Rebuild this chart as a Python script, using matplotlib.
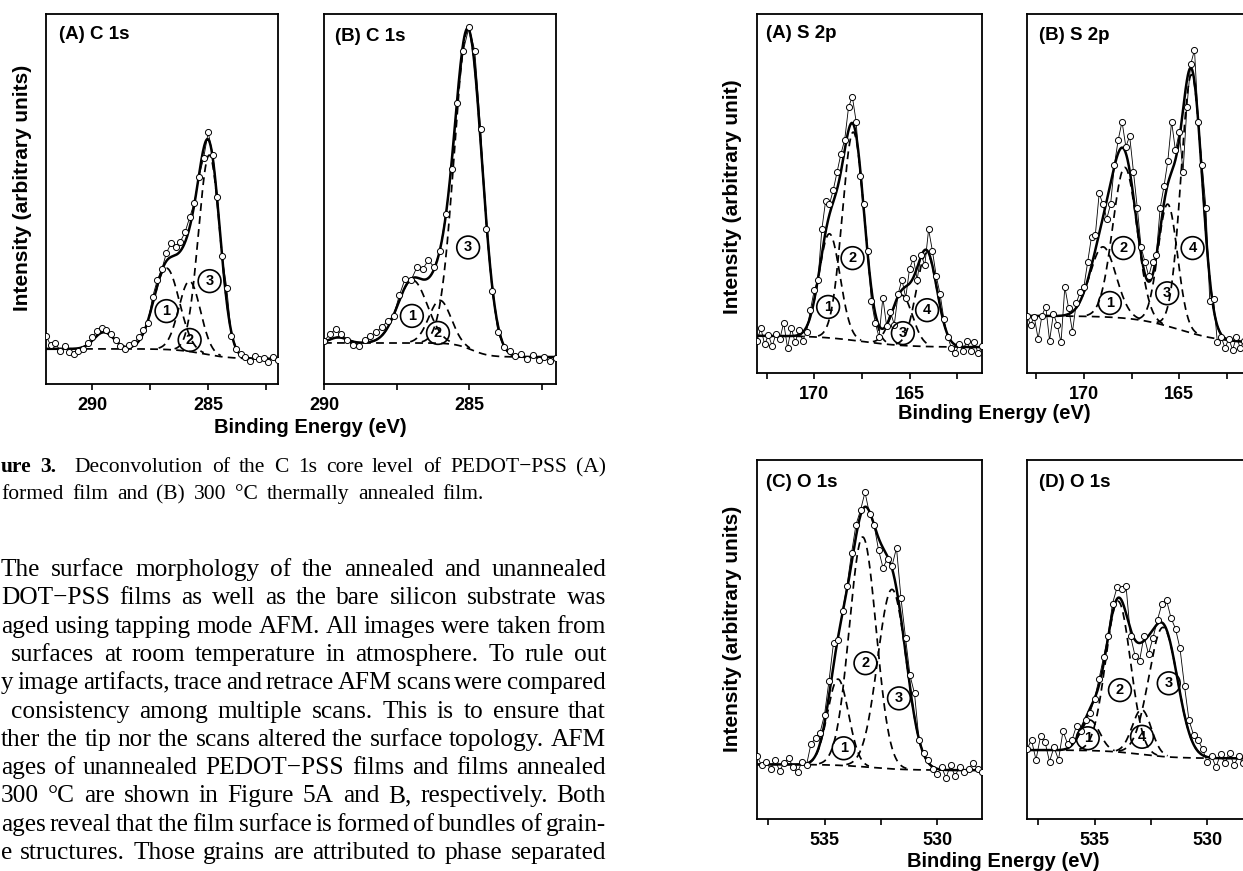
import numpy as np
import matplotlib
matplotlib.use("Agg")
import matplotlib.pyplot as plt

plt.rcParams['font.family'] = ['Liberation Sans', 'DejaVu Sans']
SANS = ['Liberation Sans', 'DejaVu Sans']
SERIF = ['Liberation Serif', 'DejaVu Serif']

# ---------------- data (intensity in % of panel height) ----------------
# C 1s (A) as-formed
c1sA_energy = np.linspace(292.0, 282.0, 51)
c1sA_counts = [13.0, 10.5, 11.2, 9.0, 10.2, 8.6, 8.2, 8.8, 9.5, 11.0, 12.8, 14.2, 15.0, 14.6, 13.6,
               12.0, 10.2, 9.4, 10.6, 11.0, 12.6, 14.5, 16.5, 23.5, 28.0, 31.0, 35.5, 38.0, 37.0,
               38.5, 41.0, 45.0, 49.0, 56.0, 61.0, 68.0, 62.0, 50.5, 34.5, 26.0, 13.0, 9.5, 8.0,
               7.4, 6.2, 7.5, 6.8, 7.0, 6.0, 7.2, 6.5]
c1sA_centers = [289.5, 286.8, 285.8, 284.95]
c1sA_heights = [4.5, 22.0, 19.0, 54.0]
c1sA_fwhm = [1.0, 1.3, 1.1, 1.1]
c1sA_base = [9.5, 6.8, 285.2, 0.6]          # high, low, step centre, step width
c1sA_lab_x = [286.8, 285.8, 284.94]
c1sA_lab_y = [19.7, 11.9, 27.8]
c1sA_lab_t = ['1', '2', '3']

# C 1s (B) 300 C annealed
c1sB_energy = np.linspace(290.0, 282.0, 41)
c1sB_counts = [11.5, 13.5, 14.8, 13.5, 12.0, 10.5, 10.2, 12.0, 13.0, 14.0, 15.5, 17.0, 18.5, 24.0,
               28.5, 28.0, 31.5, 31.0, 33.5, 31.5, 36.0, 46.0, 58.0, 76.0, 90.0, 96.5, 90.0, 69.0,
               42.0, 25.0, 14.0, 10.0, 8.8, 7.5, 8.2, 6.8, 7.8, 6.5, 7.2, 6.2, 7.0]
c1sB_centers = [289.5, 286.95, 286.0, 285.03]
c1sB_heights = [1.5, 17.0, 11.6, 86.0]
c1sB_fwhm = [0.7, 1.2, 0.9, 1.12]
c1sB_base = [11.1, 7.3, 284.9, 0.3]
c1sB_lab_x = [286.97, 286.07, 285.03]
c1sB_lab_y = [18.4, 13.8, 36.9]
c1sB_lab_t = ['1', '2', '3']

# S 2p (A)
s2pA_energy = np.linspace(173.0, 161.2, 60)
s2pA_counts = [9.0, 12.5, 8.0, 10.5, 7.5, 11.0, 9.5, 14.0, 7.0, 12.5, 8.5, 12.0, 9.0, 11.5, 17.5,
               23.0, 26.0, 40.0, 48.0, 47.0, 51.0, 56.0, 61.0, 65.0, 74.0, 77.0, 70.0, 55.0, 47.0,
               34.0, 20.0, 14.0, 10.0, 21.0, 13.0, 17.0, 13.5, 22.0, 26.0, 21.0, 29.0, 32.0, 26.0,
               33.0, 30.0, 40.0, 34.0, 27.0, 22.0, 15.0, 10.0, 7.0, 5.5, 8.0, 6.0, 9.0, 6.0, 8.5,
               5.5, 7.5]
s2pA_centers = [169.2, 167.95, 165.4, 164.1]
s2pA_heights = [29.0, 58.0, 14.0, 26.0]
s2pA_fwhm = [1.3, 1.35, 1.3, 1.28]
s2pA_base = [10.4, 7.2, 167.5, 1.2]
s2pA_lab_x = [169.27, 167.99, 165.35, 164.08]
s2pA_lab_y = [18.4, 32.0, 11.1, 17.5]
s2pA_lab_t = ['1', '2', '3', '4']

# S 2p (B)
s2pB_energy = np.linspace(173.0, 161.2, 60)
s2pB_counts = [16.0, 13.5, 15.5, 9.5, 16.0, 18.5, 9.0, 16.5, 13.5, 8.5, 24.0, 18.0, 11.5, 19.5,
               22.5, 24.0, 31.0, 38.0, 38.5, 50.0, 47.0, 43.0, 47.0, 58.0, 65.0, 70.0, 63.0, 66.0,
               56.0, 46.0, 35.0, 31.0, 27.0, 31.0, 33.0, 46.0, 52.0, 59.0, 70.0, 62.0, 67.0, 56.0,
               74.0, 86.0, 90.0, 70.0, 58.0, 46.0, 20.0, 20.5, 8.5, 10.0, 7.0, 9.5, 6.5, 10.0,
               7.0, 9.0, 6.5, 8.5]
s2pB_centers = [169.0, 167.85, 165.6, 164.35]
s2pB_heights = [19.5, 42.0, 34.0, 72.0]
s2pB_fwhm = [1.6, 1.5, 1.2, 1.3]
s2pB_base = [15.9, 8.3, 165.0, 1.2]
s2pB_lab_x = [168.64, 167.93, 165.63, 164.3]
s2pB_lab_y = [19.5, 34.8, 22.2, 34.8]
s2pB_lab_t = ['1', '2', '3', '4']

# O 1s (C)
o1sC_energy = np.linspace(538.0, 528.0, 51)
o1sC_counts = [17.5, 15.0, 16.0, 14.0, 16.5, 13.5, 15.5, 17.0, 14.5, 13.0, 16.0, 15.0, 21.0, 22.5,
               24.0, 29.0, 38.5, 49.0, 50.0, 58.0, 65.0, 74.0, 82.0, 86.0, 91.0, 85.0, 82.0, 75.0,
               70.0, 72.5, 70.5, 75.5, 61.5, 50.5, 40.0, 35.0, 22.0, 18.5, 16.5, 14.0, 12.5, 14.5,
               11.5, 15.0, 12.0, 14.5, 13.0, 14.0, 15.5, 14.0, 13.0]
o1sC_centers = [534.4, 533.3, 532.0]
o1sC_heights = [24.0, 64.0, 50.0]
o1sC_fwhm = [1.1, 1.4, 1.5]
o1sC_base = [15.2, 13.6, 533.0, 0.8]
o1sC_lab_x = [534.15, 533.18, 531.69]
o1sC_lab_y = [19.7, 43.4, 33.6]
o1sC_lab_t = ['1', '2', '3']

# O 1s (D)
o1sD_energy = np.linspace(538.0, 528.0, 51)
o1sD_counts = [19.5, 22.0, 16.5, 23.0, 21.5, 16.0, 20.0, 16.5, 24.5, 21.0, 22.0, 26.0, 24.5, 27.5,
               29.5, 33.5, 39.0, 45.0, 51.0, 60.0, 64.5, 64.0, 65.0, 51.0, 45.5, 44.0, 51.0, 46.0,
               50.5, 55.5, 60.0, 61.0, 56.0, 53.0, 47.5, 37.0, 27.5, 23.5, 22.0, 19.5, 16.0, 17.5,
               14.5, 18.0, 15.5, 18.5, 15.0, 17.5, 15.5, 18.0, 16.5]
o1sD_centers = [535.2, 533.95, 531.95, 532.9]
o1sD_heights = [8.5, 42.0, 36.0, 12.5]
o1sD_fwhm = [1.0, 1.3, 1.5, 1.0]
o1sD_base = [19.2, 16.9, 533.0, 0.8]
o1sD_lab_x = [535.3, 533.87, 532.89, 531.7]
o1sD_lab_y = [22.5, 35.9, 22.9, 37.8]
o1sD_lab_t = ['1', '2', '4', '3']

caption_lines = ["ure 3.  Deconvolution of the C 1s core level of PEDOT\u2212PSS (A)",
                 "formed film and (B) 300 \u00b0C thermally annealed film."]
body_lines = [
    "The surface morphology of the annealed and unannealed",
    "DOT\u2212PSS films as well as the bare silicon substrate was",
    "aged using tapping mode AFM. All images were taken from",
    "surfaces at room temperature in atmosphere. To rule out",
    "y image artifacts, trace and retrace AFM scans were compared",
    "consistency among multiple scans. This is to ensure that",
    "ther the tip nor the scans altered the surface topology. AFM",
    "ages of unannealed PEDOT\u2212PSS films and films annealed",
    "300 \u00b0C are shown in Figure 5A and B, respectively. Both",
    "ages reveal that the film surface is formed of bundles of grain-",
    "e structures. Those grains are attributed to phase separated",
]

# ---------------- figure ----------------
W, H = 1243, 871
fig = plt.figure(figsize=(W / 100, H / 100), dpi=100)
renderer = fig.canvas.get_renderer()


def ax_at(x0, y0, x1, y1):
    return fig.add_axes([x0 / W, 1 - y1 / H, (x1 - x0) / W, (y1 - y0) / H])


def gauss(E, c, h, f):
    return h * np.exp(-4 * np.log(2) * (E - c) ** 2 / f ** 2)


def step_base(E, hi, lo, c, w):
    return lo + (hi - lo) / (1 + np.exp(-(E - c) / w))


def draw_panel(ax, xlim, energy, counts, centers, heights, fwhm, base,
               lab_x, lab_y, lab_t, title, title_off, major, minor):
    E = np.linspace(xlim[0], xlim[1], 900)
    b = step_base(E, *base)
    env = b.copy()
    for c, h, f in zip(centers, heights, fwhm):
        g = gauss(E, c, h, f)
        env = env + g
        comp = np.where(g > 0.3, b + g, np.nan)
        ax.plot(E, comp, color='black', lw=1.25, dashes=(4.5, 3), zorder=2)
    ax.plot(E, b, color='black', lw=1.25, dashes=(4.5, 3), zorder=2)
    ax.plot(E, env, color='black', lw=1.8, zorder=3)
    ax.plot(energy, counts, '-o', color='black', lw=0.6, ms=4.4, mfc='white',
            mec='black', mew=0.7, zorder=4)
    for x, y, t in zip(lab_x, lab_y, lab_t):
        ax.text(x, y, t, ha='center', va='center', fontsize=10.5, weight='bold',
                bbox=dict(boxstyle='circle,pad=0.3', fc='none', ec='black', lw=1.2), zorder=6)
    ax.set_xlim(*xlim)
    ax.set_ylim(0, 100)
    ax.set_yticks([])
    ax.set_xticks(major, labels=[str(int(m)) for m in major])
    ax.set_xticks(minor, minor=True)
    ax.tick_params(axis='x', which='both', direction='out', length=4.5, width=1.2,
                   pad=5, labelsize=13)
    for lbl in ax.get_xticklabels():
        lbl.set_fontweight('bold')
    for s in ax.spines.values():
        s.set_linewidth(1.3)
    ax.annotate(title, xy=(0, 1), xycoords='axes fraction', xytext=title_off,
                textcoords='offset pixels', ha='left', va='center',
                fontsize=13.5, weight='bold')


axA = ax_at(46, 14, 277.7, 384)
draw_panel(axA, (292.0, 282.0), c1sA_energy, c1sA_counts, c1sA_centers, c1sA_heights,
           c1sA_fwhm, c1sA_base, c1sA_lab_x, c1sA_lab_y, c1sA_lab_t, '(A) C 1s', (13, -21),
           [290, 285], [287.5, 282.5])
axB = ax_at(324, 14, 556, 384)
draw_panel(axB, (290.0, 282.0), c1sB_energy, c1sB_counts, c1sB_centers, c1sB_heights,
           c1sB_fwhm, c1sB_base, c1sB_lab_x, c1sB_lab_y, c1sB_lab_t, '(B) C 1s', (11, -23),
           [290, 285], [287.5, 282.5])
axSA = ax_at(757, 14, 982, 373)
draw_panel(axSA, (173.0, 161.2), s2pA_energy, s2pA_counts, s2pA_centers, s2pA_heights,
           s2pA_fwhm, s2pA_base, s2pA_lab_x, s2pA_lab_y, s2pA_lab_t, '(A) S 2p', (9, -19),
           [170, 165], [172.5, 167.5, 162.5])
axSB = ax_at(1026.7, 14, 1251.7, 373)
draw_panel(axSB, (173.0, 161.2), s2pB_energy, s2pB_counts, s2pB_centers, s2pB_heights,
           s2pB_fwhm, s2pB_base, s2pB_lab_x, s2pB_lab_y, s2pB_lab_t, '(B) S 2p', (12, -21),
           [170, 165], [172.5, 167.5, 162.5])
axOC = ax_at(757, 460, 982, 819)
draw_panel(axOC, (538.0, 528.0), o1sC_energy, o1sC_counts, o1sC_centers, o1sC_heights,
           o1sC_fwhm, o1sC_base, o1sC_lab_x, o1sC_lab_y, o1sC_lab_t, '(C) O 1s', (9, -22),
           [535, 530], [537.5, 532.5])
axOD = ax_at(1027, 460, 1252, 819)
draw_panel(axOD, (538.0, 528.0), o1sD_energy, o1sD_counts, o1sD_centers, o1sD_heights,
           o1sD_fwhm, o1sD_base, o1sD_lab_x, o1sD_lab_y, o1sD_lab_t, '(D) O 1s', (12, -22),
           [535, 530], [537.5, 532.5])


def ftext(x, y, s, **kw):
    return fig.text(x / W, 1 - y / H, s, **kw)


# axis titles
ftext(23, 188, 'Intensity (arbitrary units)', rotation=90, ha='center', va='center',
      fontsize=15, weight='bold')
ftext(733, 197, 'Intensity (arbitrary unit)', rotation=90, ha='center', va='center',
      fontsize=15, weight='bold')
ftext(733, 629, 'Intensity (arbitrary units)', rotation=90, ha='center', va='center',
      fontsize=15, weight='bold')
ftext(310, 427, 'Binding Energy (eV)', ha='center', va='center', fontsize=14.5, weight='bold')
ftext(994, 413, 'Binding Energy (eV)', ha='center', va='center', fontsize=14.5, weight='bold')
ftext(1003, 861, 'Binding Energy (eV)', ha='center', va='center', fontsize=14.5, weight='bold')


def justify(words, x0, x1, ybase, size, weights=None, gapw=None, just=True):
    weights = weights or ['normal'] * len(words)
    gapw = gapw or [1.0] * (len(words) - 1)

    def build(sz):
        arts, widths = [], []
        for wd, wt in zip(words, weights):
            a = ftext(0, ybase, wd, fontsize=sz, family=SERIF, weight=wt, va='baseline',
                      ha='left')
            widths.append(a.get_window_extent(renderer).width)
            arts.append(a)
        return arts, widths

    arts, widths = build(size)
    min_gap = 0.16 * size * 100 / 72
    if just and (x1 - x0 - sum(widths)) / sum(gapw) < min_gap:
        scale = (x1 - x0 - min_gap * sum(gapw)) / sum(widths)
        for a in arts:
            a.remove()
        arts, widths = build(size * scale)
    if just:
        gap = (x1 - x0 - sum(widths)) / sum(gapw)
    else:
        gap = size * 0.25 * 100 / 72
    x = x0
    for i, a in enumerate(arts):
        a.set_x(x / W)
        x += widths[i]
        if i < len(gapw):
            x += gap * gapw[i]


# caption
cap1 = caption_lines[0].split()
justify(cap1, 1, 606, 472, 15.5, weights=['bold', 'bold'] + ['normal'] * (len(cap1) - 2),
        gapw=[1.0, 2.0] + [1.0] * (len(cap1) - 3))
justify(caption_lines[1].split(), 1, 484, 499, 15.5)

# body text
starts = [1, 1, 1, 11, 1, 11, 1, 1, 1, 1, 1]
for k, line in enumerate(body_lines):
    justify(line.split(), starts[k], 606, 576 + 28.3 * k, 18.3)

fig.savefig('out.png', dpi=100)
